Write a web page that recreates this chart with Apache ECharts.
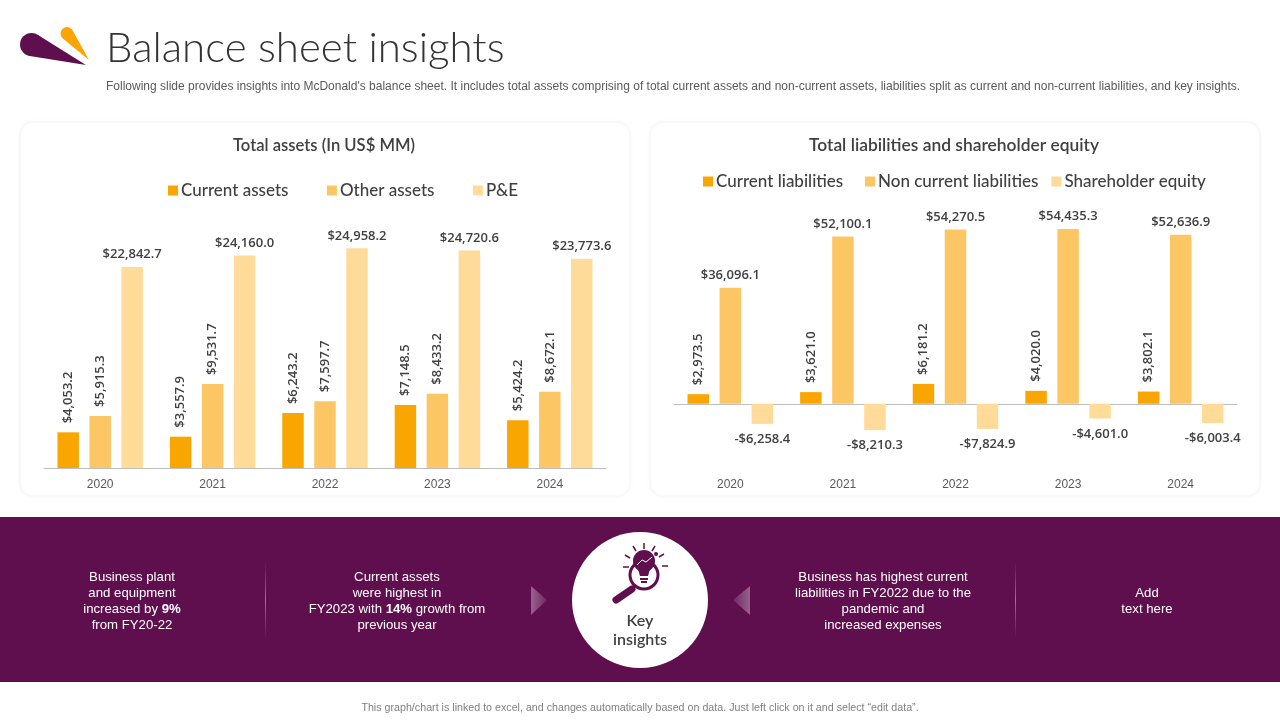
<!DOCTYPE html>
<html>
<head>
<meta charset="utf-8">
<title>Balance sheet insights</title>
<script src="https://cdn.jsdelivr.net/npm/echarts@6/dist/echarts.min.js"></script>
<style>
  html, body { margin: 0; padding: 0; background: #fff; }
  #main { width: 1280px; height: 720px; }
</style>
</head>
<body>
<div id="main"></div>
<script>
var years = ['2020', '2021', '2022', '2023', '2024'];

// left chart
var currentAssets = [4053.2, 3557.9, 6243.2, 7148.5, 5424.2];
var otherAssets = [5915.3, 9531.7, 7597.7, 8433.2, 8672.1];
var plantEquipment = [22842.7, 24160.0, 24958.2, 24720.6, 23773.6];

// right chart
var currentLiabilities = [2973.5, 3621.0, 6181.2, 4020.0, 3802.1];
var nonCurrentLiabilities = [36096.1, 52100.1, 54270.5, 54435.3, 52636.9];
var shareholderEquity = [-6258.4, -8210.3, -7824.9, -4601.0, -6003.4];

var colors = ['#f9a602', '#fdc664', '#fedb99'];
var purple = '#5f0f4e';
var headFont = 'Lato';
var bodyFont = 'Liberation Sans';

function money(p) {
  var v = Math.abs(p.value).toLocaleString('en-US', { minimumFractionDigits: 1, maximumFractionDigits: 1 });
  return (p.value < 0 ? '-$' : '$') + v;
}

function barSeries(name, data, idx, color, upright) {
  var label = {
    show: true,
    formatter: money,
    color: '#404040',
    fontFamily: 'Open Sans',
    fontWeight: 600,
    fontSize: 13
  };
  if (upright) {
    label.position = 'top';
    label.rotate = 90;
    label.align = 'left';
    label.verticalAlign = 'middle';
    label.distance = 9;
  } else {
    label.position = 'top';
    label.distance = 6;
  }
  return {
    name: name,
    type: 'bar',
    xAxisIndex: idx,
    yAxisIndex: idx,
    barGap: '49%',
    barCategoryGap: '24%',
    itemStyle: { color: color },
    label: label,
    data: data
  };
}

function lowerSeries(name, data, idx, color) {
  var s = barSeries(name, data, idx, color, false);
  s.label.position = 'bottom';
  s.label.distance = 9;
  return s;
}

function xAxis(gridIndex) {
  return {
    type: 'category',
    gridIndex: gridIndex,
    position: 'bottom',
    data: years,
    axisTick: { show: false },
    axisLine: { lineStyle: { color: '#bfbfbf', width: 1 } },
    axisLabel: { color: '#595959', fontFamily: bodyFont, fontSize: 12, margin: 11 }
  };
}

function legend(left, top, gap, names) {
  return {
    left: left,
    top: top,
    padding: 0,
    itemWidth: 10,
    itemHeight: 10,
    itemGap: gap,
    icon: 'rect',
    data: names,
    textStyle: { color: '#404040', fontFamily: headFont, fontWeight: 500, fontSize: 17, padding: [0, 0, 0, -2] }
  };
}

function card(x) {
  return {
    type: 'rect', z: -10,
    shape: { x: x, y: 122, width: 610, height: 374, r: 13 },
    style: { fill: '#fff', stroke: '#f8f8f8', lineWidth: 1.5, shadowBlur: 4, shadowColor: 'rgba(0,0,0,0.03)' }
  };
}

function insight(x, y, text) {
  return {
    type: 'text', z: 5, x: x, y: y,
    style: {
      text: text,
      fill: '#fff',
      font: '13.2px "Liberation Sans"',
      align: 'center',
      lineHeight: 16,
      rich: { b: { font: 'bold 13.2px "Liberation Sans"', fill: '#fff', lineHeight: 16 } }
    }
  };
}

function divider(x) {
  return {
    type: 'rect', z: 2,
    shape: { x: x, y: 562, width: 1, height: 76 },
    style: {
      fill: {
        type: 'linear', x: 0, y: 0, x2: 0, y2: 1,
        colorStops: [
          { offset: 0, color: 'rgba(255,255,255,0)' },
          { offset: 0.5, color: 'rgba(255,255,255,0.4)' },
          { offset: 1, color: 'rgba(255,255,255,0)' }
        ]
      }
    }
  };
}

function arrow(points, from, to) {
  return {
    type: 'polygon', z: 2,
    shape: { points: points },
    style: {
      fill: {
        type: 'linear', x: 0, y: 0, x2: 1, y2: 0,
        colorStops: [
          { offset: 0, color: from },
          { offset: 1, color: to }
        ]
      }
    }
  };
}

function ray(x1, y1, x2, y2) {
  return {
    type: 'line', z: 6,
    shape: { x1: x1, y1: y1, x2: x2, y2: y2 },
    style: { stroke: purple, lineWidth: 1.5 }
  };
}

var decorations = [
  card(20),
  card(650),
  // logo
  { type: 'circle', z: 2, shape: { cx: 31.5, cy: 44.5, r: 11.5 }, style: { fill: purple } },
  { type: 'polygon', z: 2, shape: { points: [[37.6, 34.8], [86, 65], [29.7, 55.9]] }, style: { fill: purple } },
  { type: 'circle', z: 2, shape: { cx: 67, cy: 33.5, r: 6.5 }, style: { fill: '#f9a602' } },
  { type: 'polygon', z: 2, shape: { points: [[72.7, 30.4], [89, 60], [62.9, 38.5]] }, style: { fill: '#f9a602' } },
  { type: 'text', z: 5, x: 106, y: 81, style: { text: "Following slide provides insights into McDonald's balance sheet. It includes total assets comprising of total current assets and non-current assets, liabilities split as current and non-current liabilities, and key insights.", fill: '#595959', font: '12px "Liberation Sans"' } },
  // banner
  { type: 'rect', z: 1, shape: { x: 0, y: 517, width: 1280, height: 165 }, style: { fill: purple } },
  divider(265),
  divider(1015),
  arrow([[531, 586], [547, 600], [531, 615]], 'rgba(255,255,255,0.35)', 'rgba(255,255,255,0.1)'),
  arrow([[733, 600], [750, 586], [750, 615]], 'rgba(255,255,255,0.1)', 'rgba(255,255,255,0.35)'),
  { type: 'circle', z: 3, shape: { cx: 640, cy: 600, r: 68 }, style: { fill: '#fff' } },
  // bulb and magnifier icon
  { type: 'circle', z: 6, shape: { cx: 644, cy: 575, r: 14 }, style: { fill: 'none', stroke: purple, lineWidth: 3 } },
  { type: 'circle', z: 6, shape: { cx: 644, cy: 561, r: 11 }, style: { fill: purple } },
  { type: 'polygon', z: 6, shape: { points: [[637, 566], [651, 566], [648, 576], [640, 576]] }, style: { fill: purple } },
  { type: 'polyline', z: 7, shape: { points: [[637, 565], [642, 560], [646, 562], [652, 557]] }, style: { fill: 'none', stroke: '#fff', lineWidth: 1 } },
  { type: 'rect', z: 6, shape: { x: 640, y: 578, width: 8, height: 2 }, style: { fill: purple } },
  { type: 'rect', z: 6, shape: { x: 641, y: 581, width: 6, height: 2 }, style: { fill: purple } },
  { type: 'line', z: 6, shape: { x1: 632, y1: 589, x2: 616, y2: 600 }, style: { stroke: purple, lineWidth: 7, lineCap: 'round' } },
  ray(644, 543, 644, 549),
  ray(633, 546, 636, 551),
  ray(625, 555, 630, 558),
  ray(623, 567, 629, 567),
  ray(655, 546, 652, 551),
  ray(664, 554, 659, 557),
  ray(668, 566, 662, 566),
  { type: 'circle', z: 6, shape: { cx: 656, cy: 554, r: 2 }, style: { fill: purple } },
  { type: 'text', z: 6, x: 640, y: 611, style: { text: 'Key\ninsights', fill: '#404040', font: '600 16px Lato', align: 'center', lineHeight: 19 } },
  // insights
  insight(132, 569, 'Business plant\nand equipment\nincreased by {b|9%}\nfrom FY20-22'),
  insight(397, 569, 'Current assets\nwere highest in\nFY2023 with {b|14%} growth from\nprevious year'),
  insight(883, 569, 'Business has highest current\nliabilities in FY2022 due to the\npandemic and\nincreased expenses'),
  insight(1147, 585, 'Add\ntext here'),
  { type: 'text', z: 5, x: 640, y: 703, style: { text: 'This graph/chart is linked to excel, and changes automatically based on data. Just left click on it and select \u201cedit data\u201d.', fill: '#808080', font: '10.7px "Liberation Sans"', align: 'center' } }
];

// third x axis only carries the year labels under the right chart, the line stays on zero
var yearAxis = xAxis(1);
yearAxis.axisLine = { show: false, onZero: false };

var rightLine = xAxis(1);
rightLine.axisLabel = { show: false };

var chart = echarts.init(document.getElementById('main'));
var option = {
  animation: false,
  backgroundColor: '#fff',
  title: [
    { text: 'Balance sheet insights', left: 106, top: 27, padding: 0, textStyle: { color: '#333', fontFamily: headFont, fontWeight: 300, fontSize: 42 } },
    { text: 'Total assets (In US$ MM)', left: 324, top: 137, padding: 0, textAlign: 'center', textStyle: { color: '#404040', fontFamily: headFont, fontWeight: 600, fontSize: 16.6 } },
    { text: 'Total liabilities and shareholder equity', left: 954, top: 137, padding: 0, textAlign: 'center', textStyle: { color: '#404040', fontFamily: headFont, fontWeight: 600, fontSize: 17.4 } }
  ],
  // the right legend is split in two, its gaps are not even
  legend: [
    legend(168, 182, 38.5, ['Current assets', 'Other assets', 'P&E']),
    legend(703, 173, 13, ['Current liabilities']),
    legend(865, 173, 13, ['Non current liabilities', 'Shareholder equity'])
  ],
  grid: [
    { left: 44, right: 674, top: 204, bottom: 252 },
    { left: 674, right: 43, top: 211, bottom: 252 }
  ],
  xAxis: [xAxis(0), rightLine, yearAxis],
  yAxis: [
    { type: 'value', gridIndex: 0, min: 0, max: 30000, show: false },
    { type: 'value', gridIndex: 1, min: -20000, max: 60000, show: false }
  ],
  series: [
    barSeries('Current assets', currentAssets, 0, colors[0], true),
    barSeries('Other assets', otherAssets, 0, colors[1], true),
    barSeries('P&E', plantEquipment, 0, colors[2], false),
    barSeries('Current liabilities', currentLiabilities, 1, colors[0], true),
    barSeries('Non current liabilities', nonCurrentLiabilities, 1, colors[1], false),
    lowerSeries('Shareholder equity', shareholderEquity, 1, colors[2])
  ],
  graphic: { elements: decorations }
};
chart.setOption(option);
</script>
</body>
</html>
